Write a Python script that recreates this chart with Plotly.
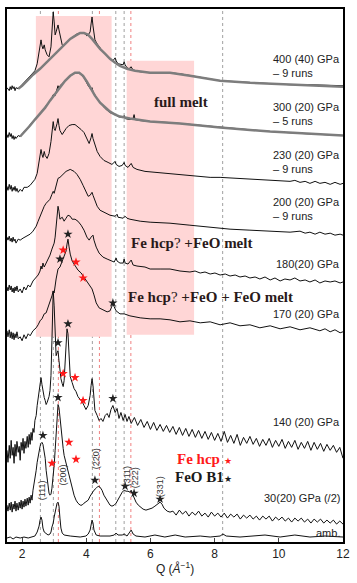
import plotly.graph_objects as go

# Stacked diffraction patterns: (Q [1/A], intensity incl. vertical offset, arb. units)
p400 = [(1.53, 456), (1.60, 453), (1.63, 457), (1.66, 454), (1.69, 458), (1.72, 455), (1.75, 457), (1.78, 453),
        (1.81, 456), (1.88, 455), (1.94, 457), (2.03, 460), (2.16, 464), (2.25, 467), (2.34, 470), (2.40, 473),
        (2.47, 480), (2.53, 492), (2.56, 500), (2.59, 504), (2.62, 498), (2.65, 495), (2.69, 499), (2.72, 494),
        (2.78, 489), (2.84, 487), (2.90, 497), (2.93, 512), (2.97, 532), (3.00, 522), (3.03, 509), (3.06, 512),
        (3.12, 519), (3.15, 514), (3.18, 509), (3.25, 499), (3.28, 497), (3.34, 500), (3.40, 502), (3.50, 505),
        (3.59, 507), (3.71, 510), (3.81, 511), (3.90, 511), (3.96, 510), (4.02, 508), (4.06, 509), (4.12, 512),
        (4.15, 520), (4.18, 527), (4.21, 518), (4.24, 509), (4.27, 504), (4.34, 500), (4.43, 496), (4.52, 492),
        (4.65, 488), (4.74, 485), (4.83, 483), (4.90, 486), (4.93, 483), (4.99, 480), (5.08, 479), (5.15, 479),
        (5.18, 482), (5.21, 479), (5.27, 476), (5.33, 475), (5.40, 477), (5.43, 475), (5.52, 473), (5.68, 472),
        (5.99, 471), (6.30, 471), (6.61, 471), (6.92, 470), (7.23, 468), (7.64, 466), (8.17, 463), (8.70, 462),
        (9.10, 461), (9.73, 460), (10.35, 459), (10.97, 459), (11.60, 458), (12.0, 458)]
fit400 = [(1.88, 455), (2.0, 458), (2.16, 463), (2.34, 469), (2.56, 475), (2.72, 480), (2.87, 485), (3.03, 490),
          (3.18, 495), (3.34, 500), (3.50, 505), (3.65, 508), (3.81, 511), (3.93, 511), (4.06, 509), (4.18, 505),
          (4.30, 500), (4.43, 495), (4.59, 490), (4.74, 485), (4.90, 481), (5.05, 478), (5.27, 475), (5.52, 473),
          (5.99, 471), (6.61, 471), (7.23, 468), (8.17, 463), (9.10, 461), (10.35, 459), (12.0, 457)]

p300 = [(1.53, 409), (1.56, 406), (1.60, 411), (1.63, 407), (1.66, 410), (1.69, 405), (1.72, 408), (1.75, 404),
        (1.78, 407), (1.81, 405), (1.88, 408), (1.94, 407), (2.03, 411), (2.16, 415), (2.25, 419), (2.34, 422),
        (2.47, 426), (2.56, 430), (2.65, 434), (2.78, 439), (2.87, 443), (2.93, 446), (2.97, 449), (3.03, 448),
        (3.09, 454), (3.12, 458), (3.15, 455), (3.18, 458), (3.28, 461), (3.40, 465), (3.56, 469), (3.68, 471),
        (3.81, 470), (3.93, 466), (4.06, 458), (4.15, 454), (4.18, 456), (4.21, 452), (4.30, 447), (4.43, 441),
        (4.59, 435), (4.74, 431), (4.90, 429), (4.99, 427), (5.12, 426), (5.18, 428), (5.21, 425), (5.36, 424),
        (5.46, 425), (5.49, 429), (5.52, 424), (5.68, 423), (5.99, 422), (6.61, 421), (7.64, 418), (8.70, 415),
        (9.73, 412), (10.75, 410), (12.0, 408)]
fit300 = [(1.94, 407), (2.09, 412), (2.25, 418), (2.40, 424), (2.56, 430), (2.72, 436), (2.87, 443), (3.03, 450),
          (3.18, 457), (3.34, 463), (3.50, 468), (3.65, 471), (3.78, 471), (3.90, 468), (4.02, 462), (4.15, 455),
          (4.27, 448), (4.43, 441), (4.59, 436), (4.74, 432), (4.90, 429), (5.05, 427), (5.36, 425), (5.99, 422),
          (6.92, 420), (8.17, 416), (9.73, 412), (12.0, 408)]

p230 = [(1.53, 357), (1.56, 353), (1.60, 359), (1.63, 354), (1.66, 358), (1.69, 352), (1.72, 356), (1.75, 353),
        (1.78, 357), (1.81, 352), (1.84, 355), (1.88, 351), (1.94, 354), (2.0, 352), (2.06, 356), (2.16, 356),
        (2.25, 358), (2.34, 361), (2.40, 364), (2.47, 370), (2.53, 382), (2.56, 390), (2.59, 394), (2.62, 389),
        (2.65, 386), (2.69, 392), (2.72, 388), (2.78, 385), (2.84, 390), (2.90, 402), (2.93, 412), (2.97, 422),
        (3.00, 415), (3.03, 413), (3.09, 420), (3.12, 425), (3.15, 418), (3.18, 413), (3.25, 409), (3.31, 412),
        (3.37, 415), (3.46, 418), (3.56, 419), (3.65, 419), (3.74, 417), (3.84, 414), (3.93, 411), (4.02, 405),
        (4.09, 400), (4.15, 406), (4.18, 410), (4.21, 405), (4.27, 398), (4.34, 392), (4.43, 387), (4.55, 383),
        (4.68, 381), (4.80, 379), (4.90, 382), (4.93, 379), (5.02, 377), (5.12, 378), (5.18, 381), (5.21, 378),
        (5.30, 376), (5.40, 380), (5.46, 376), (5.58, 374), (5.83, 372), (6.14, 371), (6.45, 370), (6.92, 369),
        (7.23, 368), (7.55, 367), (7.86, 366), (8.17, 366), (8.70, 365), (9.10, 364), (9.73, 363), (10.35, 362),
        (10.50, 363), (10.66, 361), (10.82, 362), (10.97, 360), (11.13, 362), (11.28, 360), (11.44, 361),
        (11.60, 359), (11.75, 361), (11.91, 359), (12.0, 360)]

p200 = [(1.53, 306), (1.56, 303), (1.60, 307), (1.63, 302), (1.66, 305), (1.69, 301), (1.72, 306), (1.75, 302),
        (1.78, 304), (1.81, 300), (1.88, 304), (1.94, 303), (2.03, 305), (2.16, 307), (2.25, 309), (2.34, 312),
        (2.44, 317), (2.50, 322), (2.56, 327), (2.62, 332), (2.69, 337), (2.75, 340), (2.81, 342), (2.87, 344),
        (2.93, 349), (2.97, 352), (3.00, 350), (3.06, 358), (3.12, 365), (3.18, 366), (3.28, 369), (3.37, 372),
        (3.50, 374), (3.62, 372), (3.71, 369), (3.81, 364), (3.90, 358), (3.99, 351), (4.06, 347), (4.12, 348),
        (4.18, 351), (4.21, 348), (4.27, 342), (4.34, 337), (4.43, 333), (4.59, 330), (4.74, 328), (4.90, 327),
        (4.96, 329), (4.99, 326), (5.15, 325), (5.21, 327), (5.27, 325), (5.36, 324), (5.68, 322), (5.99, 321),
        (6.61, 320), (7.23, 318), (7.86, 316), (8.48, 314), (9.10, 313), (9.73, 312), (10.35, 311), (10.66, 312),
        (10.82, 310), (10.97, 311), (11.13, 309), (11.28, 311), (11.44, 309), (11.60, 310), (11.75, 308),
        (11.91, 309), (12.0, 308)]

p180 = [(1.53, 256), (1.56, 252), (1.60, 258), (1.63, 253), (1.66, 257), (1.69, 251), (1.72, 255), (1.75, 250),
        (1.78, 256), (1.81, 252), (1.84, 257), (1.88, 251), (1.94, 254), (2.0, 250), (2.06, 256), (2.12, 253),
        (2.19, 258), (2.25, 256), (2.34, 262), (2.44, 266), (2.50, 268), (2.56, 272), (2.59, 277), (2.62, 274),
        (2.65, 280), (2.69, 276), (2.75, 280), (2.81, 284), (2.87, 288), (2.93, 294), (3.00, 300), (3.03, 306),
        (3.06, 317), (3.09, 330), (3.12, 337), (3.15, 332), (3.18, 324), (3.25, 326), (3.31, 322), (3.37, 325),
        (3.43, 328), (3.50, 327), (3.56, 324), (3.65, 324), (3.74, 322), (3.84, 318), (3.93, 313), (4.02, 306),
        (4.09, 303), (4.15, 306), (4.21, 308), (4.24, 303), (4.31, 296), (4.40, 290), (4.52, 286), (4.65, 284),
        (4.77, 282), (4.87, 281), (4.93, 285), (4.96, 282), (5.05, 280), (5.15, 280), (5.18, 284), (5.21, 280),
        (5.30, 279), (5.40, 283), (5.46, 278), (5.58, 277), (5.83, 276), (5.99, 274), (6.30, 274), (6.61, 274),
        (6.92, 272), (7.23, 271), (7.39, 272), (7.55, 270), (7.70, 271), (7.86, 269), (8.01, 270), (8.17, 268),
        (8.33, 269), (8.48, 267), (8.64, 268), (8.79, 266), (8.95, 267), (9.10, 265), (9.26, 266), (9.41, 264),
        (9.57, 266), (9.73, 263), (9.88, 265), (10.04, 262), (10.19, 264), (10.35, 263), (10.50, 265),
        (10.66, 262), (10.82, 263), (10.97, 261), (11.13, 263), (11.28, 260), (11.44, 262), (11.60, 261),
        (11.75, 262), (11.91, 260), (12.0, 261)]

p170 = [(1.53, 212), (1.56, 206), (1.60, 213), (1.63, 205), (1.66, 211), (1.69, 204), (1.72, 210), (1.75, 203),
        (1.78, 209), (1.81, 205), (1.84, 211), (1.88, 204), (1.94, 206), (2.0, 202), (2.06, 208), (2.12, 204),
        (2.19, 209), (2.25, 207), (2.34, 212), (2.44, 215), (2.50, 218), (2.56, 222), (2.62, 224), (2.69, 229),
        (2.75, 230), (2.81, 235), (2.87, 240), (2.93, 247), (2.97, 252), (3.00, 250), (3.06, 264), (3.12, 274),
        (3.18, 276), (3.25, 282), (3.31, 287), (3.37, 292), (3.40, 299), (3.43, 304), (3.46, 297), (3.50, 289),
        (3.56, 282), (3.65, 277), (3.74, 273), (3.84, 270), (3.93, 266), (4.02, 262), (4.12, 257), (4.18, 254),
        (4.24, 248), (4.31, 240), (4.40, 235), (4.52, 233), (4.65, 231), (4.74, 232), (4.80, 236), (4.83, 239),
        (4.87, 236), (4.93, 232), (5.05, 229), (5.18, 229), (5.27, 228), (5.36, 227), (5.68, 225), (5.99, 224),
        (6.30, 224), (6.61, 223), (6.92, 221), (7.23, 222), (7.55, 220), (7.86, 221), (8.17, 218), (8.48, 220),
        (8.79, 217), (9.10, 218), (9.41, 215), (9.73, 217), (10.04, 214), (10.35, 216), (10.66, 213),
        (10.97, 215), (11.28, 212), (11.44, 214), (11.60, 211), (11.75, 213), (11.91, 210), (12.0, 211)]

p140 = [(1.53, 92), (1.56, 80), (1.60, 97), (1.63, 84), (1.66, 102), (1.69, 87), (1.72, 95), (1.75, 79),
        (1.78, 98), (1.81, 86), (1.84, 101), (1.88, 90), (1.91, 96), (1.94, 82), (1.97, 100), (2.00, 92),
        (2.03, 104), (2.06, 89), (2.09, 101), (2.12, 94), (2.16, 106), (2.19, 95), (2.22, 108), (2.25, 98),
        (2.28, 110), (2.31, 102), (2.34, 114), (2.37, 110), (2.40, 122), (2.44, 127), (2.47, 137), (2.50, 144),
        (2.53, 154), (2.56, 162), (2.59, 165), (2.62, 158), (2.65, 150), (2.69, 145), (2.72, 142), (2.75, 138),
        (2.78, 140), (2.81, 143), (2.84, 146), (2.87, 152), (2.90, 167), (2.93, 202), (2.97, 252), (3.00, 237),
        (3.03, 197), (3.06, 187), (3.09, 190), (3.12, 192), (3.15, 182), (3.18, 172), (3.21, 164), (3.25, 159),
        (3.28, 156), (3.31, 162), (3.34, 177), (3.37, 202), (3.40, 214), (3.43, 209), (3.46, 182), (3.50, 166),
        (3.56, 160), (3.62, 154), (3.68, 151), (3.74, 146), (3.81, 143), (3.87, 141), (3.93, 137), (3.99, 133),
        (4.06, 137), (4.12, 147), (4.15, 157), (4.18, 164), (4.21, 157), (4.24, 142), (4.27, 132), (4.34, 127),
        (4.40, 122), (4.46, 124), (4.52, 121), (4.59, 127), (4.65, 129), (4.71, 125), (4.77, 133), (4.83, 137),
        (4.90, 130), (4.96, 134), (5.02, 124), (5.08, 130), (5.15, 122), (5.21, 128), (5.27, 121), (5.33, 126),
        (5.40, 119), (5.5, 125), (5.6, 117), (5.7, 123), (5.8, 115), (5.9, 121), (6.0, 113), (6.1, 120),
        (6.2, 112), (6.3, 118), (6.4, 111), (6.5, 117), (6.6, 110), (6.7, 116), (6.8, 108), (6.9, 115),
        (7.0, 107), (7.1, 114), (7.2, 106), (7.3, 113), (7.4, 105), (7.5, 112), (7.6, 104), (7.7, 111),
        (7.8, 103), (7.9, 110), (8.0, 102), (8.1, 109), (8.2, 101), (8.3, 111), (8.4, 100), (8.5, 107),
        (8.6, 99), (8.7, 108), (8.8, 97), (8.9, 105), (9.0, 99), (9.1, 106), (9.2, 98), (9.3, 104), (9.4, 96),
        (9.5, 103), (9.6, 97), (9.7, 104), (9.8, 95), (9.9, 102), (10.0, 96), (10.1, 103), (10.2, 94),
        (10.3, 101), (10.4, 95), (10.5, 102), (10.6, 93), (10.7, 100), (10.8, 94), (10.9, 101), (11.0, 92),
        (11.1, 100), (11.2, 93), (11.3, 99), (11.4, 91), (11.5, 98), (11.6, 92), (11.7, 97), (11.8, 90),
        (11.9, 95), (11.95, 88), (12.0, 84)]

p30 = [(1.53, 37), (1.56, 31), (1.60, 39), (1.63, 32), (1.66, 40), (1.69, 30), (1.72, 38), (1.75, 33),
       (1.78, 41), (1.81, 31), (1.84, 39), (1.88, 32), (1.91, 40), (1.94, 34), (1.97, 42), (2.00, 33),
       (2.03, 41), (2.06, 35), (2.09, 43), (2.12, 36), (2.16, 44), (2.19, 37), (2.22, 45), (2.25, 39),
       (2.28, 47), (2.31, 42), (2.34, 52), (2.37, 57), (2.40, 64), (2.44, 72), (2.47, 80), (2.50, 87),
       (2.53, 92), (2.56, 96), (2.59, 99), (2.62, 100), (2.65, 98), (2.69, 92), (2.72, 84), (2.75, 72),
       (2.78, 62), (2.81, 54), (2.84, 49), (2.87, 47), (2.90, 48), (2.93, 54), (2.97, 64), (3.00, 77),
       (3.03, 92), (3.06, 110), (3.09, 128), (3.12, 138), (3.15, 135), (3.18, 124), (3.21, 112), (3.25, 102),
       (3.28, 94), (3.31, 87), (3.37, 79), (3.43, 72), (3.50, 64), (3.56, 55), (3.62, 47), (3.68, 42),
       (3.74, 39), (3.81, 37), (3.87, 37), (3.93, 39), (3.99, 40), (4.06, 42), (4.12, 46), (4.18, 49),
       (4.24, 52), (4.31, 54), (4.37, 56), (4.43, 55), (4.49, 52), (4.55, 47), (4.62, 43), (4.68, 39),
       (4.74, 37), (4.80, 36), (4.87, 37), (4.93, 39), (4.99, 42), (5.05, 46), (5.12, 50), (5.18, 52),
       (5.24, 51), (5.30, 51), (5.36, 50), (5.40, 52), (5.43, 49), (5.49, 44), (5.55, 40), (5.62, 37),
       (5.68, 35), (5.77, 33), (5.86, 32), (5.96, 33), (6.05, 34), (6.14, 36), (6.24, 38), (6.30, 40),
       (6.36, 38), (6.42, 34), (6.52, 31), (6.61, 30), (6.7, 31), (6.8, 27), (6.9, 32), (7.0, 28), (7.1, 31),
       (7.2, 26), (7.3, 30), (7.4, 27), (7.5, 31), (7.6, 26), (7.7, 29), (7.8, 25), (7.9, 30), (8.0, 26),
       (8.1, 29), (8.2, 25), (8.3, 29), (8.4, 24), (8.5, 28), (8.6, 25), (8.7, 28), (8.8, 23), (8.9, 27),
       (9.0, 24), (9.1, 27), (9.2, 23), (9.3, 26), (9.4, 22), (9.5, 26), (9.6, 23), (9.7, 26), (9.8, 21),
       (9.9, 25), (10.0, 22), (10.1, 25), (10.2, 21), (10.3, 24), (10.4, 20), (10.5, 24), (10.6, 21),
       (10.7, 24), (10.8, 20), (10.9, 23), (11.0, 19), (11.1, 23), (11.2, 20), (11.3, 23), (11.4, 19),
       (11.5, 22), (11.6, 19), (11.7, 22), (11.8, 18), (11.9, 21), (12.0, 18)]

p_amb = [(1.53, 4), (1.63, 5), (1.72, 3), (1.81, 5), (1.94, 4), (2.06, 5), (2.19, 4), (2.31, 5), (2.40, 6),
         (2.47, 10), (2.53, 16), (2.56, 22), (2.59, 25), (2.62, 22), (2.65, 14), (2.69, 10), (2.75, 8),
         (2.81, 7), (2.87, 8), (2.90, 10), (2.93, 15), (2.97, 19), (3.00, 25), (3.03, 30), (3.06, 34),
         (3.09, 39), (3.12, 40), (3.15, 36), (3.18, 24), (3.21, 14), (3.25, 9), (3.31, 7), (3.50, 6), (3.81, 5),
         (3.99, 6), (4.06, 8), (4.12, 12), (4.15, 18), (4.18, 22), (4.21, 19), (4.24, 12), (4.31, 7), (4.43, 6),
         (4.74, 6), (4.87, 7), (4.93, 9), (4.99, 7), (5.12, 7), (5.18, 8), (5.27, 6), (5.36, 10), (5.40, 12),
         (5.46, 8), (5.55, 6), (5.83, 5), (6.14, 7), (6.45, 5), (6.77, 7), (7.08, 5), (7.55, 6), (7.86, 5),
         (8.17, 6), (8.26, 8), (8.36, 6), (8.79, 5), (9.10, 6), (9.57, 7), (10.04, 5), (10.50, 7), (10.97, 5),
         (11.44, 6), (12.0, 5)]

# FeO B1 (grey) and Fe hcp (red) reference peak positions
feo_lines = [2.57, 2.975, 4.19, 4.92, 5.18, 8.25]
fe_lines = [3.13, 4.41, 5.39]

# shaded melt regions: Q range and intensity range
regions = [(2.43, 4.79, 206, 528), (5.26, 7.36, 208, 483)]

# peak markers
black_stars = [(3.43, 309), (3.18, 284), (4.83, 240), (3.43, 219), (3.12, 200), (4.83, 144),
               (2.65, 107), (3.12, 145), (4.27, 62), (5.21, 56), (5.49, 49), (6.30, 43)]
red_stars = [(3.28, 293), (3.68, 281), (3.90, 265), (3.28, 169), (3.65, 165), (3.90, 142),
             (2.93, 79), (3.46, 100), (3.68, 83)]

# pressure labels: text, intensity position
labels = [("400 (40) GPa<br>– 9 runs", 478), ("300 (20) GPa<br>– 5 runs", 430),
          ("230 (20) GPa<br>– 9 runs", 381), ("200 (20) GPa<br>– 9 runs", 334),
          ("180(20) GPa", 279), ("170 (20) GPa", 229), ("140 (20) GPa", 120),
          ("30(20) GPa (/2)", 44), ("amb.", 9)]

hkl = [("(111)", 2.62, 52), ("(200)", 3.28, 67), ("(220)", 4.30, 84),
       ("(311)", 5.27, 66), ("(222)", 5.52, 64), ("(331)", 6.30, 55)]

fig = go.Figure()

for q0, q1, i0, i1 in regions:
    fig.add_shape(type="rect", x0=q0, x1=q1, y0=i0, y1=i1, xref="x", yref="y",
                  fillcolor="rgb(255,214,214)", line_width=0, layer="below")
for q in feo_lines:
    fig.add_shape(type="line", x0=q, x1=q, y0=0, y1=1, xref="x", yref="paper",
                  line=dict(color="#a0a0a0", width=1, dash="dot"), layer="below")
for q in fe_lines:
    fig.add_shape(type="line", x0=q, x1=q, y0=0, y1=1, xref="x", yref="paper",
                  line=dict(color="#f08080", width=1, dash="dot"), layer="below")


def add_curve(pts, color="#111111", width=1.0):
    fig.add_trace(go.Scatter(x=[p[0] for p in pts], y=[p[1] for p in pts], mode="lines",
                             line=dict(color=color, width=width), showlegend=False, hoverinfo="skip"))


for pts in [p400, p300, p230, p200, p180, p170, p140, p30, p_amb]:
    add_curve(pts)
add_curve(fit400, "rgb(125,125,125)", 2.5)
add_curve(fit300, "rgb(125,125,125)", 2.5)

fig.add_trace(go.Scatter(x=[s[0] for s in black_stars], y=[s[1] for s in black_stars], mode="markers",
                         marker=dict(symbol="star", size=7, color="#222222"), showlegend=False))
fig.add_trace(go.Scatter(x=[s[0] for s in red_stars], y=[s[1] for s in red_stars], mode="markers",
                         marker=dict(symbol="star", size=7, color="#ff1a1a"), showlegend=False))

for txt, yv in labels:
    fig.add_annotation(x=11.97, y=yv, text=txt, showarrow=False, xanchor="right", yanchor="middle",
                       align="left", font=dict(family="Liberation Sans, Arial", size=11, color="#222"))

for txt, qv, yv in hkl:
    fig.add_annotation(x=qv, y=yv, text=txt, showarrow=False, textangle=-90,
                       font=dict(family="Liberation Sans, Arial", size=9, color="#333"))

serif = "Liberation Serif, DejaVu Serif"
fig.add_annotation(x=6.95, y=442, text="<b>full melt</b>", showarrow=False,
                   font=dict(family=serif, size=15, color="#2a1a1a"))
fig.add_annotation(x=7.28, y=300, text="<b>Fe hcp</b>? <b>+FeO melt</b>", showarrow=False,
                   font=dict(family=serif, size=15, color="#2a1a1a"))
fig.add_annotation(x=7.86, y=246, text="<b>Fe hcp</b>? <b>+FeO + FeO melt</b>", showarrow=False,
                   font=dict(family=serif, size=15, color="#2a1a1a"))
fig.add_annotation(x=7.67, y=83, text="<b>Fe hcp</b> <span style='font-size:9px'>★</span>",
                   showarrow=False, font=dict(family=serif, size=15, color="#ff1a1a"))
fig.add_annotation(x=7.65, y=65, text="<b>FeO B1</b><span style='font-size:9px'>★</span>",
                   showarrow=False, font=dict(family=serif, size=15, color="#1a1a1a"))

fig.update_xaxes(range=[1.53, 12], tick0=0, dtick=2, ticks="inside", ticklen=4, mirror=True,
                 showline=True, linecolor="black", linewidth=1.5, showgrid=False, zeroline=False,
                 tickfont=dict(family="Liberation Sans, Arial", size=12, color="#222"),
                 title=dict(text="Q (<i>Å</i><sup>−1</sup>)", standoff=4,
                            font=dict(family="Liberation Sans, Arial", size=12, color="#222")))
fig.update_yaxes(range=[0, 535], showticklabels=False, ticks="", mirror=True, showline=True,
                 linecolor="black", linewidth=1.5, showgrid=False, zeroline=False)

fig.update_layout(width=357, height=583, margin=dict(l=7, r=14, t=7, b=41),
                  plot_bgcolor="white", paper_bgcolor="white", showlegend=False)

# drop the browser's default page margin so the figure sits at the window origin
fig.write_html("out.html", config={"displayModeBar": False},
               post_script="document.body.style.margin='0';")
